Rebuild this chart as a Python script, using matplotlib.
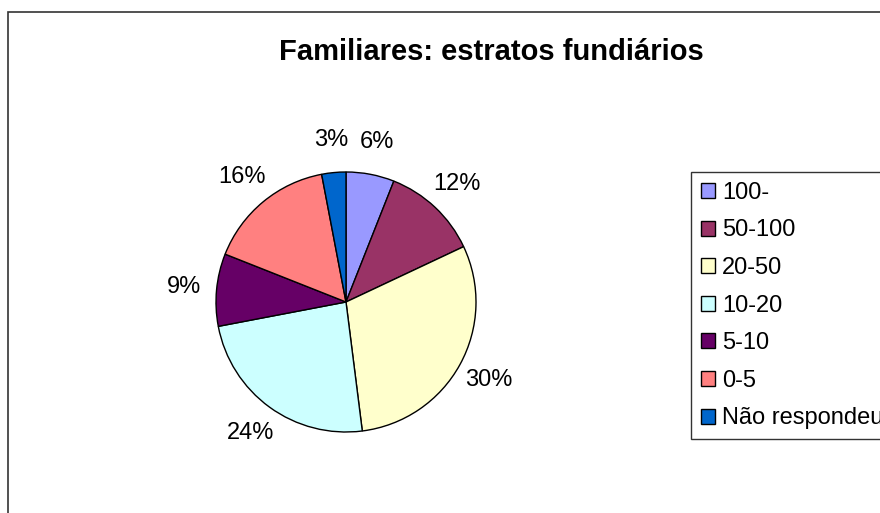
import matplotlib.pyplot as plt
from matplotlib.patches import Rectangle

plt.rcParams["font.family"] = ["Liberation Sans", "DejaVu Sans"]

categories = ["100-", "50-100", "20-50", "10-20", "5-10", "0-5", "Não respondeu"]
shares = [6, 12, 30, 24, 9, 16, 3]
colors = ["#9999FF", "#993366", "#FFFFCC", "#CCFFFF", "#660066", "#FF8080", "#0066CC"]

W, H = 880, 513
fig = plt.figure(figsize=(W / 100, H / 100), dpi=100)

# outer chart frame (runs off the right and bottom edges)
fig.patches.append(
    Rectangle((7.5 / W, -0.1), 1.2, 1 - 12.5 / H + 0.1, transform=fig.transFigure,
              fill=False, edgecolor="#333333", linewidth=1.2)
)

cx, cy, r = 346, 302, 130
ax = fig.add_axes([(cx - r) / W, (H - cy - r) / H, 2 * r / W, 2 * r / H])
wedges, texts, autotexts = ax.pie(
    shares,
    colors=colors,
    startangle=90,
    counterclock=False,
    autopct="%1.0f%%",
    pctdistance=1.25,
    wedgeprops={"edgecolor": "black", "linewidth": 1.0},
    textprops={"fontsize": 17, "color": "black"},
)
ax.set_xlim(-1, 1)
ax.set_ylim(-1, 1)
ax.set_aspect("equal")

fig.text(491 / W, 1 - 52 / H, "Familiares: estratos fundiários",
         ha="center", va="center", fontsize=21, fontweight="bold")

# legend deliberately runs off the right edge, as in the original
leg = fig.legend(
    wedges, categories,
    loc="upper left",
    bbox_to_anchor=(691 / W, 1 - 172 / H),
    fontsize=17,
    frameon=True,
    fancybox=False,
    edgecolor="black",
    handlelength=0.6,
    handleheight=0.6,
    handletextpad=0.3,
    labelspacing=0.66,
    borderpad=0.42,
    borderaxespad=0,
)
leg.get_frame().set_linewidth(1.0)

fig.savefig("out.png", dpi=100)
